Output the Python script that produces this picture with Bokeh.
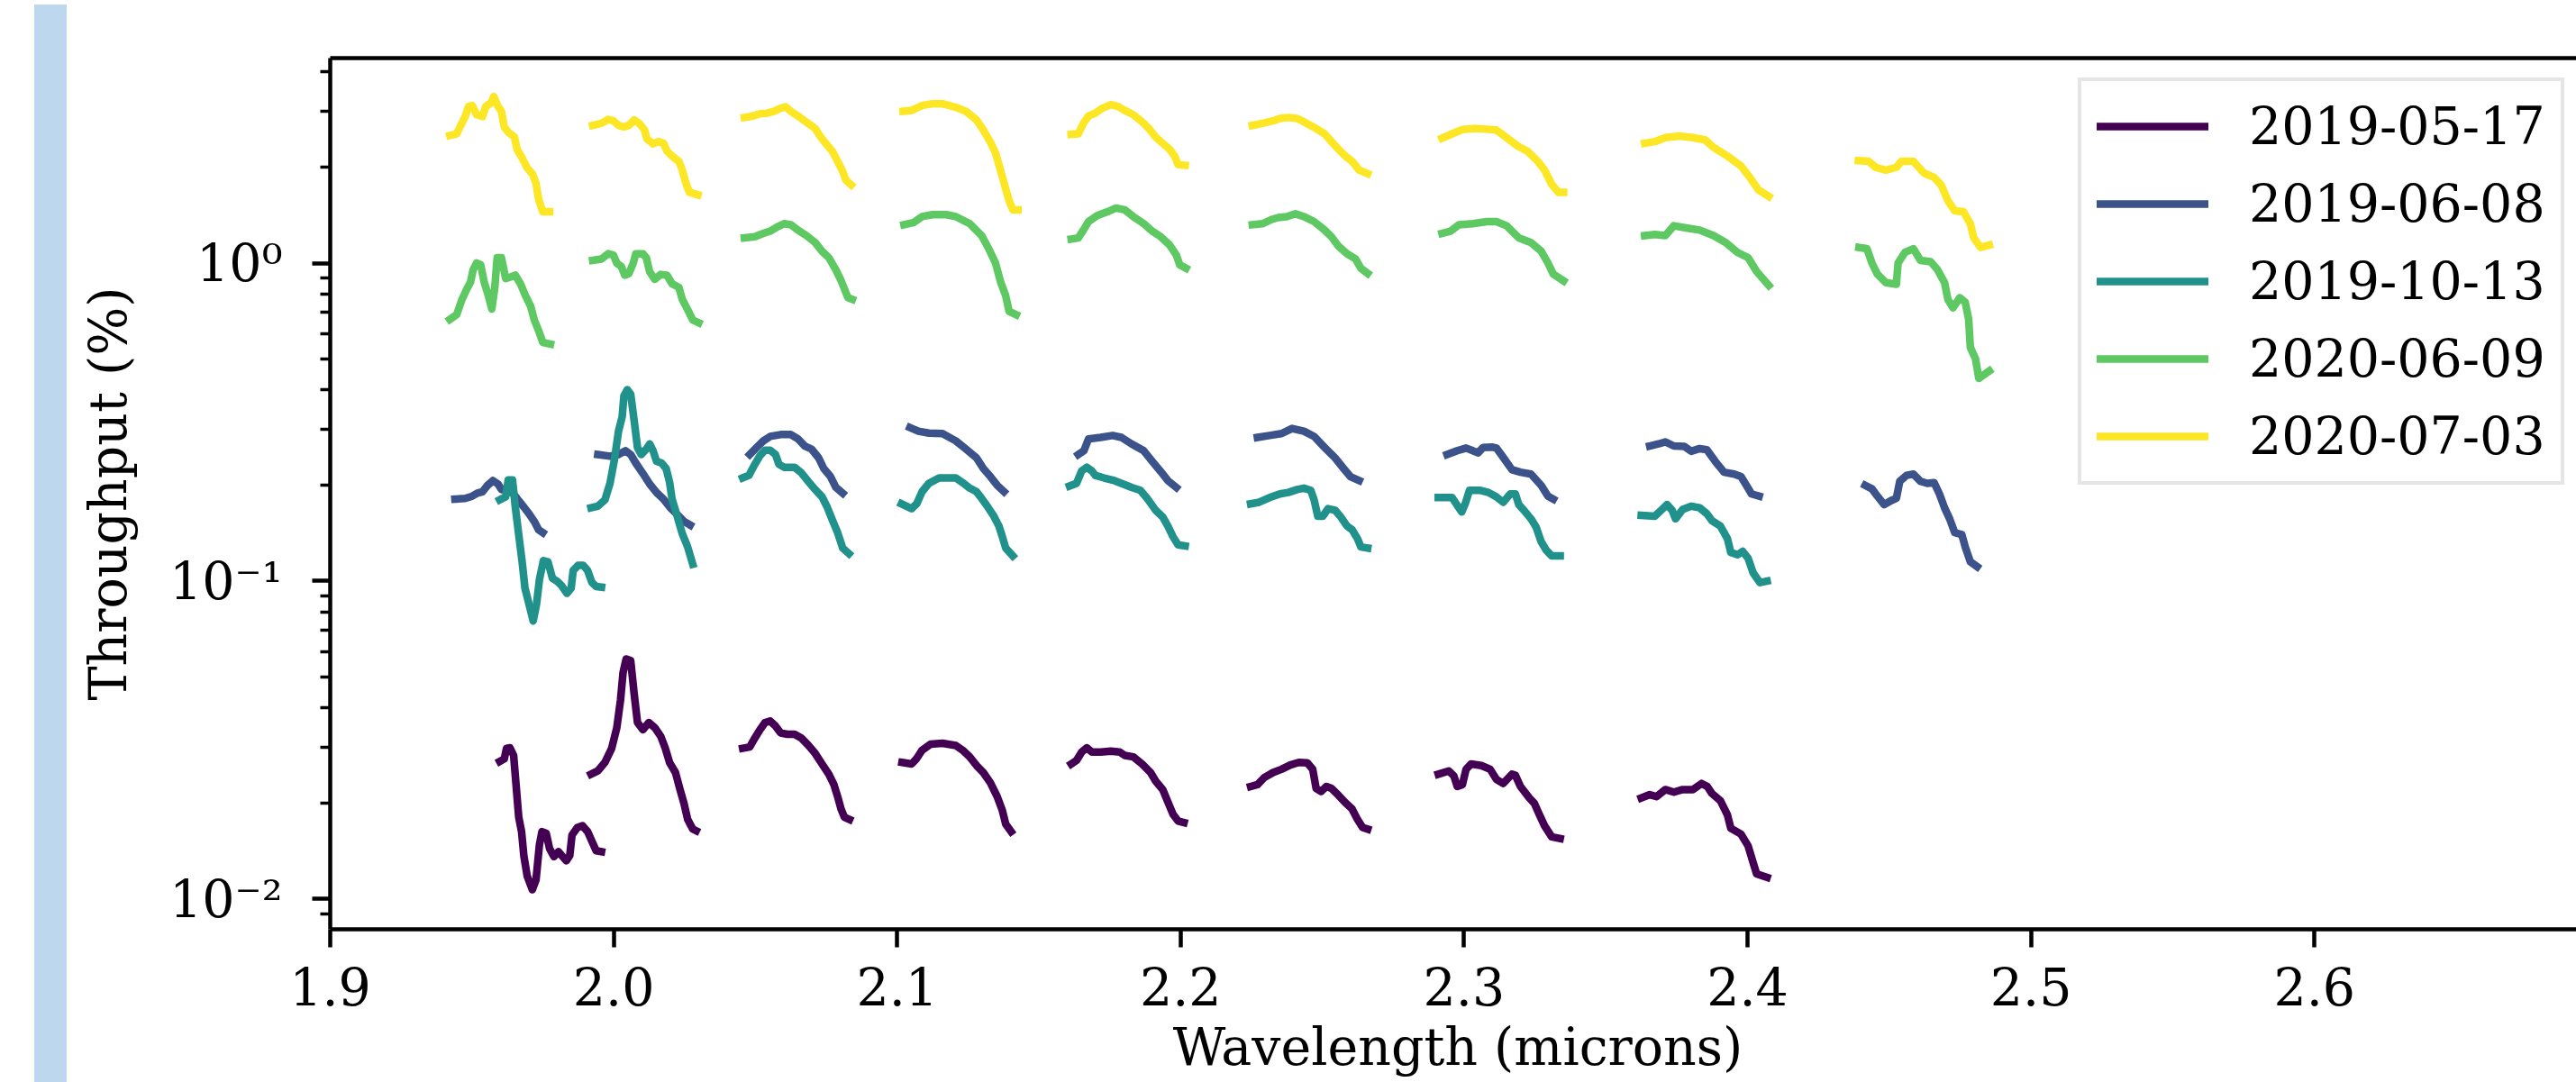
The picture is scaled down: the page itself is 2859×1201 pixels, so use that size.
from bokeh.plotting import figure
from bokeh.models import (Range1d, FixedTicker, LinearAxis, PrintfTickFormatter, Div,
                          Spacer, GlobalInlineStyleSheet)
from bokeh.layouts import row
from bokeh.embed import file_html
from bokeh.resources import INLINE

# ---------------- data ----------------
dates = ["2019-05-17", "2019-06-08", "2019-10-13", "2020-06-09", "2020-07-03"]
colors = ["#440154", "#3b528b", "#21918c", "#5ec962", "#fde725"]

# 2019-05-17 (wavelength in microns / throughput in %), one list per order
wl_20190517 = [
    [1.9598,1.9614,1.9622,1.9634,1.9647,1.9655,1.9665,1.9675,1.9683,1.9695,1.9713,1.9726,1.9738,1.9747,1.9762,1.9774,1.9789,1.9805,1.9817,1.9833,1.9845,1.9853,1.9872,1.9890,1.9908,1.9926,1.9938,1.9957],
    [1.9920,1.9944,1.9969,1.9993,2.0011,2.0024,2.0033,2.0044,2.0060,2.0072,2.0084,2.0103,2.0124,2.0145,2.0166,2.0182,2.0197,2.0218,2.0234,2.0248,2.0261,2.0279,2.0291],
    [2.0455,2.0480,2.0498,2.0516,2.0534,2.0552,2.0571,2.0589,2.0613,2.0638,2.0662,2.0686,2.0711,2.0735,2.0759,2.0777,2.0790,2.0802,2.0814,2.0832],
    [2.1017,2.1051,2.1069,2.1088,2.1118,2.1160,2.1207,2.1231,2.1256,2.1280,2.1304,2.1329,2.1353,2.1371,2.1383,2.1402],
    [2.1614,2.1633,2.1651,2.1669,2.1687,2.1718,2.1754,2.1785,2.1803,2.1833,2.1864,2.1894,2.1912,2.1937,2.1955,2.1973,2.1991,2.2012],
    [2.2247,2.2271,2.2295,2.2326,2.2356,2.2387,2.2417,2.2447,2.2466,2.2478,2.2496,2.2514,2.2532,2.2557,2.2581,2.2605,2.2624,2.2642,2.2660],
    [2.2909,2.2946,2.2964,2.2976,2.2994,2.3007,2.3025,2.3061,2.3092,2.3114,2.3138,2.3169,2.3181,2.3199,2.3230,2.3248,2.3266,2.3284,2.3309,2.3339],
    [2.3625,2.3655,2.3679,2.3710,2.3740,2.3771,2.3807,2.3838,2.3858,2.3874,2.3904,2.3929,2.3941,2.3977,2.4002,2.4020,2.4032,2.4069],
]
tp_20190517 = [
    [0.0271,0.0276,0.0298,0.0299,0.0283,0.0232,0.0181,0.0163,0.0137,0.0118,0.0107,0.0115,0.0148,0.0163,0.0161,0.0144,0.0136,0.0141,0.0137,0.0132,0.0137,0.0159,0.0168,0.0170,0.0163,0.0150,0.0142,0.0141],
    [0.0247,0.0253,0.0269,0.0298,0.0346,0.0422,0.0515,0.0569,0.0562,0.0444,0.0359,0.0341,0.0359,0.0346,0.0325,0.0298,0.0269,0.0250,0.0221,0.0200,0.0178,0.0166,0.0164],
    [0.0298,0.0301,0.0321,0.0341,0.0359,0.0363,0.0350,0.0333,0.0330,0.0330,0.0321,0.0305,0.0287,0.0266,0.0247,0.0229,0.0210,0.0192,0.0181,0.0178],
    [0.0269,0.0266,0.0277,0.0294,0.0307,0.0309,0.0304,0.0294,0.0280,0.0263,0.0250,0.0232,0.0210,0.0190,0.0172,0.0163],
    [0.0266,0.0273,0.0290,0.0299,0.0290,0.0290,0.0292,0.0290,0.0283,0.0280,0.0266,0.0250,0.0235,0.0221,0.0202,0.0185,0.0176,0.0174],
    [0.0226,0.0229,0.0241,0.0250,0.0256,0.0264,0.0269,0.0268,0.0256,0.0223,0.0218,0.0226,0.0223,0.0212,0.0201,0.0192,0.0178,0.0168,0.0166],
    [0.0247,0.0253,0.0244,0.0226,0.0229,0.0256,0.0266,0.0263,0.0256,0.0238,0.0231,0.0247,0.0245,0.0226,0.0208,0.0200,0.0184,0.0170,0.0157,0.0155],
    [0.0208,0.0213,0.0210,0.0221,0.0217,0.0221,0.0221,0.0231,0.0226,0.0215,0.0204,0.0184,0.0167,0.0160,0.0147,0.0130,0.0120,0.0117],
]

# 2019-06-08
wl_20190608 = [
    [1.9440,1.9476,1.9501,1.9519,1.9537,1.9555,1.9574,1.9592,1.9604,1.9622,1.9647,1.9665,1.9683,1.9701,1.9720,1.9735,1.9750],
    [1.9944,1.9987,2.0017,2.0042,2.0060,2.0078,2.0103,2.0127,2.0151,2.0176,2.0200,2.0224,2.0248,2.0270],
    [2.0480,2.0504,2.0528,2.0552,2.0589,2.0625,2.0650,2.0674,2.0698,2.0723,2.0741,2.0765,2.0784,2.0808],
    [2.1045,2.1075,2.1112,2.1160,2.1207,2.1243,2.1280,2.1304,2.1329,2.1353,2.1377],
    [2.1639,2.1659,2.1675,2.1718,2.1760,2.1791,2.1827,2.1870,2.1900,2.1930,2.1955,2.1985],
    [2.2271,2.2314,2.2356,2.2393,2.2435,2.2471,2.2508,2.2545,2.2575,2.2599,2.2630],
    [2.2940,2.2976,2.3007,2.3031,2.3049,2.3067,2.3098,2.3114,2.3138,2.3169,2.3199,2.3236,2.3272,2.3296,2.3315],
    [2.3655,2.3686,2.3710,2.3740,2.3777,2.3801,2.3831,2.3856,2.3886,2.3917,2.3953,2.3977,2.3996,2.4014,2.4041],
    [2.4415,2.4439,2.4458,2.4482,2.4506,2.4525,2.4537,2.4561,2.4585,2.4610,2.4634,2.4658,2.4677,2.4695,2.4713,2.4731,2.4756,2.4768,2.4786,2.4810],
]
tp_20190608 = [
    [0.181,0.182,0.185,0.189,0.191,0.200,0.207,0.202,0.194,0.194,0.188,0.179,0.171,0.163,0.154,0.145,0.142],
    [0.250,0.247,0.250,0.257,0.250,0.235,0.218,0.202,0.190,0.181,0.170,0.162,0.154,0.150],
    [0.250,0.263,0.276,0.285,0.289,0.289,0.280,0.266,0.260,0.244,0.226,0.213,0.197,0.189],
    [0.304,0.296,0.292,0.291,0.276,0.260,0.244,0.226,0.213,0.200,0.191],
    [0.250,0.257,0.280,0.283,0.287,0.283,0.270,0.257,0.238,0.221,0.207,0.197],
    [0.283,0.287,0.291,0.302,0.296,0.285,0.263,0.244,0.226,0.213,0.207],
    [0.250,0.257,0.262,0.257,0.253,0.263,0.264,0.262,0.245,0.224,0.220,0.217,0.200,0.185,0.181],
    [0.266,0.270,0.274,0.266,0.265,0.256,0.261,0.259,0.238,0.220,0.217,0.213,0.200,0.188,0.185],
    [0.200,0.195,0.185,0.174,0.179,0.182,0.206,0.215,0.217,0.206,0.203,0.204,0.188,0.170,0.157,0.142,0.140,0.128,0.115,0.111],
]

# 2019-10-13
wl_20191013 = [
    [1.9598,1.9619,1.9628,1.9643,1.9653,1.9665,1.9677,1.9687,1.9701,1.9716,1.9728,1.9738,1.9752,1.9768,1.9784,1.9801,1.9817,1.9835,1.9850,1.9857,1.9874,1.9893,1.9908,1.9923,1.9938,1.9957],
    [1.9920,1.9944,1.9969,1.9987,2.0003,2.0017,2.0030,2.0036,2.0048,2.0060,2.0072,2.0084,2.0097,2.0115,2.0127,2.0139,2.0151,2.0169,2.0185,2.0197,2.0206,2.0224,2.0242,2.0261,2.0279],
    [2.0455,2.0477,2.0498,2.0516,2.0534,2.0552,2.0571,2.0583,2.0601,2.0638,2.0662,2.0686,2.0711,2.0735,2.0753,2.0771,2.0790,2.0808,2.0830],
    [2.1015,2.1051,2.1069,2.1088,2.1112,2.1148,2.1207,2.1231,2.1256,2.1280,2.1298,2.1316,2.1341,2.1359,2.1371,2.1383,2.1408],
    [2.1608,2.1633,2.1651,2.1669,2.1687,2.1699,2.1730,2.1766,2.1803,2.1827,2.1858,2.1882,2.1912,2.1937,2.1955,2.1973,2.1991,2.2016],
    [2.2247,2.2277,2.2314,2.2350,2.2380,2.2411,2.2435,2.2459,2.2471,2.2484,2.2502,2.2520,2.2545,2.2563,2.2587,2.2605,2.2624,2.2636,2.2660],
    [2.2909,2.2958,2.2976,2.2992,2.3004,2.3019,2.3055,2.3086,2.3114,2.3138,2.3163,2.3181,2.3193,2.3211,2.3236,2.3254,2.3272,2.3290,2.3309,2.3339],
    [2.3625,2.3673,2.3698,2.3716,2.3734,2.3746,2.3771,2.3801,2.3831,2.3856,2.3874,2.3904,2.3929,2.3941,2.3965,2.3983,2.4002,2.4020,2.4044,2.4069],
]
tp_20191013 = [
    [0.180,0.184,0.208,0.208,0.171,0.140,0.115,0.0950,0.0849,0.0749,0.0849,0.101,0.116,0.115,0.102,0.0998,0.0966,0.0915,0.0950,0.108,0.112,0.112,0.108,0.0991,0.0962,0.0957],
    [0.170,0.172,0.180,0.203,0.242,0.296,0.329,0.382,0.400,0.387,0.321,0.263,0.250,0.260,0.270,0.257,0.238,0.235,0.226,0.205,0.181,0.160,0.141,0.128,0.113],
    [0.211,0.215,0.233,0.248,0.258,0.258,0.250,0.233,0.228,0.228,0.219,0.206,0.194,0.184,0.171,0.156,0.142,0.127,0.122],
    [0.175,0.169,0.175,0.191,0.203,0.211,0.211,0.204,0.196,0.191,0.182,0.173,0.160,0.149,0.138,0.127,0.120],
    [0.199,0.203,0.222,0.228,0.222,0.215,0.211,0.207,0.201,0.197,0.193,0.182,0.167,0.159,0.149,0.138,0.130,0.129],
    [0.175,0.177,0.183,0.188,0.190,0.194,0.196,0.193,0.180,0.160,0.160,0.169,0.167,0.160,0.149,0.145,0.136,0.128,0.127],
    [0.183,0.183,0.173,0.165,0.175,0.193,0.193,0.190,0.184,0.177,0.188,0.188,0.174,0.167,0.157,0.148,0.133,0.125,0.120,0.120],
    [0.161,0.160,0.168,0.174,0.167,0.157,0.168,0.172,0.170,0.163,0.155,0.149,0.136,0.123,0.121,0.124,0.118,0.106,0.0989,0.100],
]

# 2020-06-09
wl_20200609 = [
    [1.9422,1.9446,1.9464,1.9482,1.9495,1.9504,1.9516,1.9531,1.9543,1.9558,1.9570,1.9580,1.9589,1.9604,1.9619,1.9638,1.9653,1.9671,1.9689,1.9707,1.9720,1.9735,1.9750,1.9777],
    [1.9926,1.9957,1.9981,1.9999,2.0011,2.0027,2.0039,2.0054,2.0069,2.0078,2.0103,2.0115,2.0127,2.0145,2.0166,2.0188,2.0206,2.0230,2.0242,2.0261,2.0279,2.0300],
    [2.0461,2.0498,2.0528,2.0552,2.0577,2.0601,2.0625,2.0650,2.0680,2.0711,2.0735,2.0759,2.0784,2.0802,2.0814,2.0826,2.0842],
    [2.1024,2.1057,2.1088,2.1124,2.1173,2.1207,2.1256,2.1298,2.1323,2.1347,2.1365,2.1383,2.1395,2.1420],
    [2.1614,2.1639,2.1657,2.1675,2.1706,2.1742,2.1772,2.1803,2.1833,2.1870,2.1900,2.1930,2.1961,2.1985,2.1997,2.2019],
    [2.2253,2.2289,2.2320,2.2344,2.2374,2.2405,2.2435,2.2471,2.2508,2.2532,2.2557,2.2587,2.2617,2.2636,2.2660],
    [2.2922,2.2952,2.2982,2.3031,2.3080,2.3114,2.3150,2.3193,2.3236,2.3272,2.3296,2.3315,2.3351],
    [2.3637,2.3673,2.3710,2.3740,2.3783,2.3831,2.3880,2.3923,2.3965,2.4002,2.4032,2.4075],
    [2.4393,2.4421,2.4439,2.4458,2.4488,2.4525,2.4531,2.4555,2.4585,2.4610,2.4646,2.4670,2.4695,2.4707,2.4725,2.4749,2.4768,2.4780,2.4786,2.4804,2.4816,2.4853],
]
tp_20200609 = [
    [0.665,0.688,0.765,0.829,0.872,0.951,1.00,0.987,0.872,0.789,0.717,0.829,1.04,1.04,0.894,0.905,0.916,0.861,0.789,0.732,0.662,0.614,0.563,0.556],
    [1.02,1.03,1.07,1.06,1.00,0.975,0.916,0.928,1.00,1.07,1.07,1.04,0.939,0.889,0.921,0.916,0.861,0.839,0.769,0.714,0.662,0.649],
    [1.20,1.21,1.24,1.26,1.30,1.33,1.32,1.27,1.22,1.16,1.09,1.04,0.951,0.882,0.829,0.779,0.769],
    [1.32,1.34,1.40,1.42,1.42,1.40,1.33,1.22,1.11,1.00,0.872,0.789,0.705,0.688],
    [1.19,1.20,1.27,1.35,1.41,1.45,1.49,1.47,1.40,1.33,1.26,1.21,1.14,1.06,0.987,0.963],
    [1.32,1.33,1.37,1.39,1.40,1.43,1.40,1.35,1.27,1.21,1.13,1.07,1.03,0.963,0.928],
    [1.24,1.26,1.32,1.33,1.35,1.35,1.31,1.20,1.16,1.09,1.00,0.923,0.879],
    [1.22,1.23,1.22,1.31,1.29,1.27,1.22,1.16,1.08,1.04,0.942,0.851],
    [1.12,1.11,1.00,0.923,0.868,0.858,1.00,1.08,1.11,1.02,1.01,0.954,0.868,0.768,0.723,0.778,0.753,0.666,0.543,0.501,0.434,0.458],
]

# 2020-07-03
wl_20200703 = [
    [1.9422,1.9446,1.9464,1.9476,1.9488,1.9501,1.9516,1.9537,1.9549,1.9568,1.9577,1.9592,1.9604,1.9614,1.9628,1.9650,1.9659,1.9677,1.9695,1.9713,1.9726,1.9735,1.9750,1.9774],
    [1.9926,1.9957,1.9981,1.9999,2.0017,2.0036,2.0054,2.0072,2.0090,2.0109,2.0117,2.0139,2.0157,2.0176,2.0188,2.0206,2.0230,2.0242,2.0255,2.0267,2.0297],
    [2.0461,2.0492,2.0516,2.0540,2.0565,2.0589,2.0607,2.0625,2.0650,2.0686,2.0711,2.0729,2.0753,2.0771,2.0790,2.0808,2.0820,2.0838],
    [2.1021,2.1051,2.1088,2.1124,2.1160,2.1207,2.1243,2.1280,2.1304,2.1329,2.1347,2.1359,2.1371,2.1383,2.1395,2.1408,2.1426],
    [2.1614,2.1639,2.1657,2.1675,2.1699,2.1724,2.1754,2.1779,2.1803,2.1833,2.1864,2.1888,2.1912,2.1937,2.1961,2.1979,2.1991,2.2016],
    [2.2253,2.2289,2.2326,2.2350,2.2380,2.2411,2.2435,2.2471,2.2508,2.2532,2.2557,2.2581,2.2605,2.2630,2.2660],
    [2.2922,2.2958,2.2994,2.3043,2.3114,2.3150,2.3187,2.3223,2.3260,2.3284,2.3309,2.3333,2.3351],
    [2.3637,2.3673,2.3710,2.3758,2.3807,2.3850,2.3880,2.3929,2.3977,2.4008,2.4038,2.4075],
    [2.4391,2.4427,2.4452,2.4488,2.4525,2.4543,2.4585,2.4622,2.4658,2.4683,2.4707,2.4731,2.4762,2.4786,2.4798,2.4822,2.4853],
]
tp_20200703 = [
    [2.52,2.55,2.75,2.89,3.11,3.13,2.93,2.89,3.11,3.19,3.34,3.11,3.00,2.68,2.58,2.49,2.28,2.14,1.99,1.91,1.78,1.59,1.45,1.45],
    [2.71,2.75,2.83,2.80,2.71,2.68,2.71,2.82,2.75,2.62,2.46,2.37,2.41,2.38,2.25,2.17,2.09,1.96,1.78,1.67,1.64],
    [2.87,2.90,2.95,2.96,3.00,3.07,3.10,3.00,2.90,2.75,2.65,2.50,2.35,2.25,2.09,1.94,1.82,1.76],
    [3.00,3.02,3.13,3.17,3.17,3.09,3.00,2.82,2.62,2.40,2.22,2.04,1.87,1.71,1.57,1.47,1.47],
    [2.54,2.55,2.75,2.90,2.96,3.07,3.15,3.11,3.02,2.93,2.78,2.65,2.49,2.38,2.28,2.17,2.04,2.03],
    [2.71,2.75,2.80,2.85,2.87,2.85,2.78,2.67,2.55,2.41,2.28,2.17,2.09,1.96,1.91],
    [2.47,2.55,2.63,2.65,2.62,2.48,2.34,2.25,2.09,1.96,1.77,1.67,1.67],
    [2.38,2.41,2.48,2.51,2.48,2.44,2.31,2.17,2.02,1.86,1.70,1.62],
    [2.10,2.09,2.00,1.96,2.00,2.09,2.09,1.92,1.86,1.76,1.57,1.46,1.45,1.33,1.20,1.12,1.14],
]

x_ticks = [1.9, 2.0, 2.1, 2.2, 2.3, 2.4, 2.5, 2.6, 2.7]
y_ticks = [0.01, 0.1, 1.0]
y_tick_labels = ["10\u207b\u00b2", "10\u207b\u00b9", "10\u2070"]
y_minor = [0.009, 0.02, 0.03, 0.04, 0.05, 0.06, 0.07, 0.08, 0.09,
           0.2, 0.3, 0.4, 0.5, 0.6, 0.7, 0.8, 0.9, 2.0, 3.0, 4.0]
x_label = "Wavelength (microns)"
y_label = "Throughput (%)"

series_wl = [wl_20190517, wl_20190608, wl_20191013, wl_20200609, wl_20200703]
series_tp = [tp_20190517, tp_20190608, tp_20191013, tp_20200609, tp_20200703]

# ---------------- figure ----------------
FONT = "DejaVu Serif"
FS = "57px"

p = figure(frame_width=2503, frame_height=967,
           y_axis_type="log",
           x_range=Range1d(1.9, 2.6956), y_range=Range1d(0.008036, 4.411),
           output_backend="svg", toolbar_location=None,
           min_border_left=287, min_border_right=0,
           min_border_top=64, min_border_bottom=0)

p.outline_line_color = None
p.xgrid.visible = False
p.ygrid.visible = False
p.background_fill_color = "white"
p.border_fill_color = "white"

for date, col, wls, tps in zip(dates, colors, series_wl, series_tp):
    p.multi_line(xs=wls, ys=tps, line_color=col, line_width=8.5,
                 line_join="round", line_cap="square", legend_label=date)

# x axis
xa = p.xaxis[0]
xa.ticker = FixedTicker(ticks=x_ticks)
xa.formatter = PrintfTickFormatter(format="%.1f")
xa.axis_label = x_label

# y axis
ya = p.yaxis[0]
ya.ticker = FixedTicker(ticks=y_ticks, minor_ticks=y_minor)
ya.major_label_overrides = {t: lab for t, lab in zip(y_ticks, y_tick_labels)}
ya.axis_label = y_label

for ax in (xa, ya):
    ax.axis_line_width = 4.5
    ax.axis_line_color = "black"
    ax.major_tick_line_width = 4.5
    ax.major_tick_line_color = "black"
    ax.major_tick_out = 20
    ax.major_tick_in = 0
    ax.minor_tick_line_width = 3.4
    ax.minor_tick_line_color = "black"
    ax.minor_tick_out = 11
    ax.minor_tick_in = 0
    ax.major_label_text_font = FONT
    ax.major_label_text_font_size = FS
    ax.major_label_text_color = "black"
    ax.axis_label_text_font = FONT
    ax.axis_label_text_font_size = FS
    ax.axis_label_text_font_style = "normal"
    ax.axis_label_text_color = "black"

xa.minor_tick_line_color = None
xa.major_label_standoff = 21
xa.axis_label_standoff = 10
ya.major_label_standoff = 33
ya.axis_label_standoff = 32

# top spine
top = LinearAxis(ticker=FixedTicker(ticks=[]), major_label_text_font_size="0px",
                 axis_line_width=4.5, axis_line_color="black",
                 major_tick_line_color=None, minor_tick_line_color=None)
p.add_layout(top, "above")

# legend
lg = p.legend[0]
lg.location = (1940, 493)
lg.label_text_font = FONT
lg.label_text_font_size = FS
lg.label_text_color = "black"
lg.glyph_width = 124
lg.glyph_height = 66
lg.label_height = 66
lg.spacing = 20
lg.padding = 17
lg.margin = 0
lg.label_standoff = 45
lg.border_line_color = "#cccccc"
lg.border_line_width = 4.5
lg.background_fill_color = "white"
lg.background_fill_alpha = 0.8

# decorative light-blue strip at the left edge
strip = Div(text="", width=36, height=1201,
            styles={"background-color": "#bdd7ee"})
layout = row(Spacer(width=33, height=1201), strip, p)
layout.stylesheets = [GlobalInlineStyleSheet(
    css="html, body { margin: 0 !important; padding: 0 !important; overflow: hidden; }")]

open("out.html", "w").write(file_html(layout, INLINE))
